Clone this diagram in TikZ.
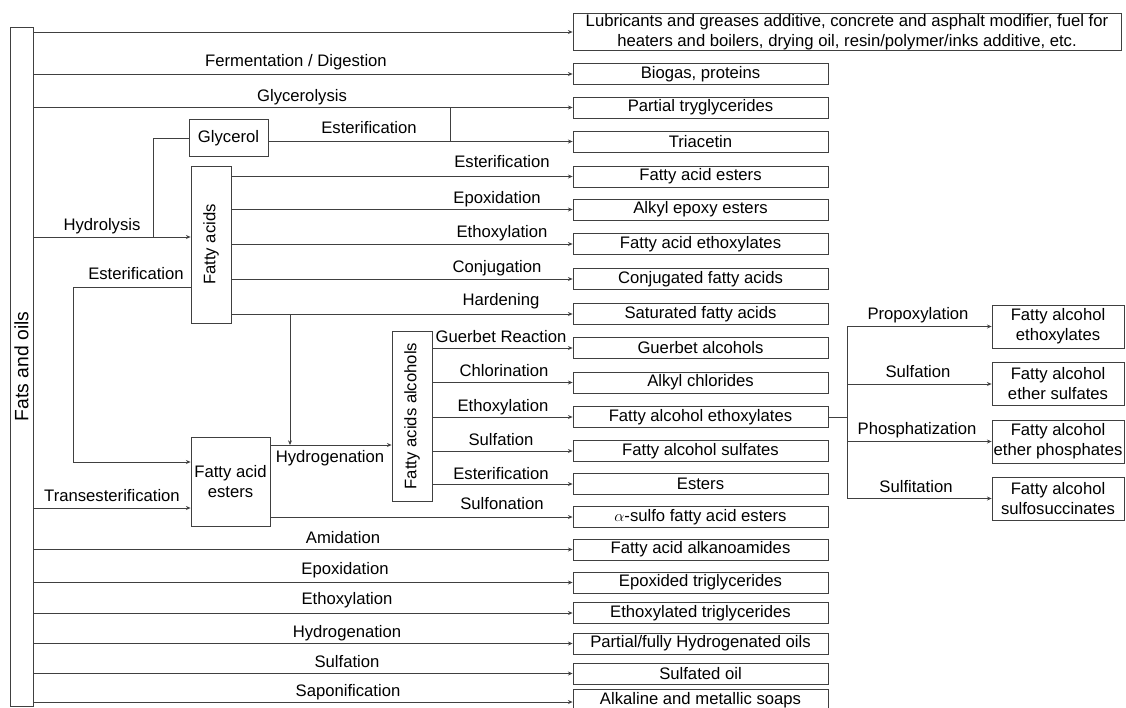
\documentclass[tikz,border=0pt]{standalone}
\usepackage{fontspec}
\setmainfont{Liberation Sans}
\usetikzlibrary{arrows.meta}

\tikzset{
    box/.style={draw=black!75, line width=0.6pt, inner sep=0pt, align=center},
    prod/.style={box, minimum width=191.25pt, minimum height=15.75pt},
    side/.style={box, minimum width=99pt, minimum height=32.25pt},
    link/.style={draw=black!75, line width=0.6pt},
    arr/.style={link, -{Stealth[length=3.5pt,width=3pt]}}
}

\begin{document}
\begin{tikzpicture}[x=0.75pt,y=-0.75pt,font=\fontsize{12.5}{15}\selectfont]
\useasboundingbox (0,0) rectangle (1126,707);

% Source (rotated: south is its right side)
\node[box, rotate=90, minimum width=509.25pt, minimum height=17.25pt, font=\fontsize{14.5}{16}\selectfont] (fats) at (21.5,366.5) {Fats and oils};

% Intermediates
\node[box, minimum width=59.25pt, minimum height=27.75pt] (glycerol) at (228.5,138) {Glycerol};
\node[box, rotate=90, minimum width=117.75pt, minimum height=30pt] (fatac) at (211,244.5) {Fatty acids};
\node[box, minimum width=59.25pt, minimum height=66.75pt] (faesters) at (230.5,481.5) {Fatty acid\\esters};
\node[box, rotate=90, minimum width=127.5pt, minimum height=30pt] (faalc) at (412,416) {Fatty acids alcohols};

% Products
\node[box, minimum width=411pt, minimum height=27.75pt] (lub) at (847,32) {Lubricants and greases additive, concrete and asphalt modifier, fuel for\\heaters and boilers, drying oil, resin/polymer/inks additive, etc.};
\node[prod] (biogas) at (700.5,74) {Biogas, proteins};
\node[prod] (partial) at (700.5,107.5) {Partial tryglycerides};
\node[prod] (triacetin) at (700.5,141.5) {Triacetin};
\node[prod] (faest) at (700.5,176.5) {Fatty acid esters};
\node[prod] (epoxyest) at (700.5,209.5) {Alkyl epoxy esters};
\node[prod] (faetho) at (700.5,244) {Fatty acid ethoxylates};
\node[prod] (conj) at (700.5,279) {Conjugated fatty acids};
\node[prod] (satur) at (700.5,314) {Saturated fatty acids};
\node[prod] (guerbet) at (700.5,348) {Guerbet alcohols};
\node[prod] (chlor) at (700.5,382.5) {Alkyl chlorides};
\node[prod] (faleth) at (700.5,417) {Fatty alcohol ethoxylates};
\node[prod] (falsulf) at (700.5,451) {Fatty alcohol sulfates};
\node[prod] (esters) at (700.5,484) {Esters};
\node[prod] (sulfo) at (700.5,517) {$\alpha$-sulfo fatty acid esters};
\node[prod] (amide) at (700.5,549.5) {Fatty acid alkanoamides};
\node[prod] (epoxtri) at (700.5,582.5) {Epoxided triglycerides};
\node[prod] (ethotri) at (700.5,613) {Ethoxylated triglycerides};
\node[prod] (hydroil) at (700.5,643.5) {Partial/fully Hydrogenated oils};
\node[prod] (sulfoil) at (700.5,673.5) {Sulfated oil};
\node[prod] (soaps) at (700.5,700) {Alkaline and metallic soaps};

% Ether products
\node[side] (etho) at (1058,326.5) {Fatty alcohol\\ethoxylates};
\node[side] (ethsulf) at (1058,384) {Fatty alcohol\\ether sulfates};
\node[side] (ethphos) at (1058,441.5) {Fatty alcohol\\ether phosphates};
\node[side] (ethsucc) at (1058,498.5) {Fatty alcohol\\sulfosuccinates};

% Junction points
\coordinate (hy) at (153,237);
\coordinate (es) at (450,141.5);
\coordinate (eL) at (73,287);
\coordinate (eB) at (73,462);
\coordinate (hard) at (290,314);
\coordinate (hg) at (290,445);
\coordinate (tr) at (33,508);
\coordinate (rb) at (847,417);

% Direct routes from fats and oils
\draw[arr] (fats.south |- lub) -- (lub.west);
\draw[arr] (fats.south |- biogas) -- (biogas.west);
\draw[arr] (fats.south |- partial) -- (partial.west);
\draw[arr] (fats.south |- amide) -- (amide.west);
\draw[arr] (fats.south |- epoxtri) -- (epoxtri.west);
\draw[arr] (fats.south |- ethotri) -- (ethotri.west);
\draw[arr] (fats.south |- hydroil) -- (hydroil.west);
\draw[arr] (fats.south |- sulfoil) -- (sulfoil.west);
\draw[arr] (fats.south |- 0,702) -- (soaps.west |- 0,702);

% Hydrolysis and glycerol
\draw[arr] (fats.south |- hy) -- (fatac.north |- hy);
\draw[link] (hy) |- (glycerol.west);
\draw[arr] (glycerol.east |- triacetin) -- (triacetin.west);
\draw[link] (es) -- (es |- partial);

% Fatty acid routes
\draw[arr] (fatac.south |- faest) -- (faest.west);
\draw[arr] (fatac.south |- epoxyest) -- (epoxyest.west);
\draw[arr] (fatac.south |- faetho) -- (faetho.west);
\draw[arr] (fatac.south |- conj) -- (conj.west);
\draw[arr] (fatac.south |- satur) -- (satur.west);
\draw[arr] (fatac.north |- eL) -- (eL) -- (eB) -- (faesters.west |- eB);
\draw[arr] (hard) -- (hg);

% Fatty acid esters routes
\draw[arr] (tr) -- (faesters.west |- tr);
\draw[arr] (faesters.east |- hg) -- (faalc.north |- hg);
\draw[arr] (faesters.east |- sulfo) -- (sulfo.west);

% Fatty alcohol routes
\draw[arr] (faalc.south |- guerbet) -- (guerbet.west);
\draw[arr] (faalc.south |- chlor) -- (chlor.west);
\draw[arr] (faalc.south |- faleth) -- (faleth.west);
\draw[arr] (faalc.south |- falsulf) -- (falsulf.west);
\draw[arr] (faalc.south |- esters) -- (esters.west);

% Ether branch
\draw[link] (faleth.east) -- (rb);
\draw[link] (rb |- etho) -- (rb |- ethsucc);
\draw[arr] (rb |- etho) -- (etho.west);
\draw[arr] (rb |- ethsulf) -- (ethsulf.west);
\draw[arr] (rb |- ethphos) -- (ethphos.west);
\draw[arr] (rb |- ethsucc) -- (ethsucc.west);

% Reaction labels
\node (lferm) at (296,62) {Fermentation / Digestion};
\node (lglyc) at (302,97) {Glycerolysis};
\node (lgest) at (369,128) {Esterification};
\node (lhydl) at (102,226) {Hydrolysis};
\node (lfest) at (136,274) {Esterification};
\node (lest1) at (502,162) {Esterification};
\node (lepo1) at (497,199) {Epoxidation};
\node (leth1) at (502,233) {Ethoxylation};
\node (lconj) at (497,268) {Conjugation};
\node (lhard) at (501,301) {Hardening};
\node (lguer) at (501,337) {Guerbet Reaction};
\node (lchlo) at (504,371) {Chlorination};
\node (leth2) at (503,407) {Ethoxylation};
\node (lsul1) at (501,440) {Sulfation};
\node (lest2) at (501,474) {Esterification};
\node (lsulo) at (502,504) {Sulfonation};
\node (lhyd1) at (330,458) {Hydrogenation};
\node (ltran) at (112,496) {Transesterification};
\node (lamid) at (343,538) {Amidation};
\node (lepo2) at (345,570) {Epoxidation};
\node (leth3) at (347,600) {Ethoxylation};
\node (lhyd2) at (347,633) {Hydrogenation};
\node (lsul2) at (347,662) {Sulfation};
\node (lsapo) at (348,692) {Saponification};
\node (lprop) at (918,315) {Propoxylation};
\node (lsul3) at (918,372) {Sulfation};
\node (lphos) at (917,430) {Phosphatization};
\node (lsulf) at (916,487) {Sulfitation};

\end{tikzpicture}
\end{document}
